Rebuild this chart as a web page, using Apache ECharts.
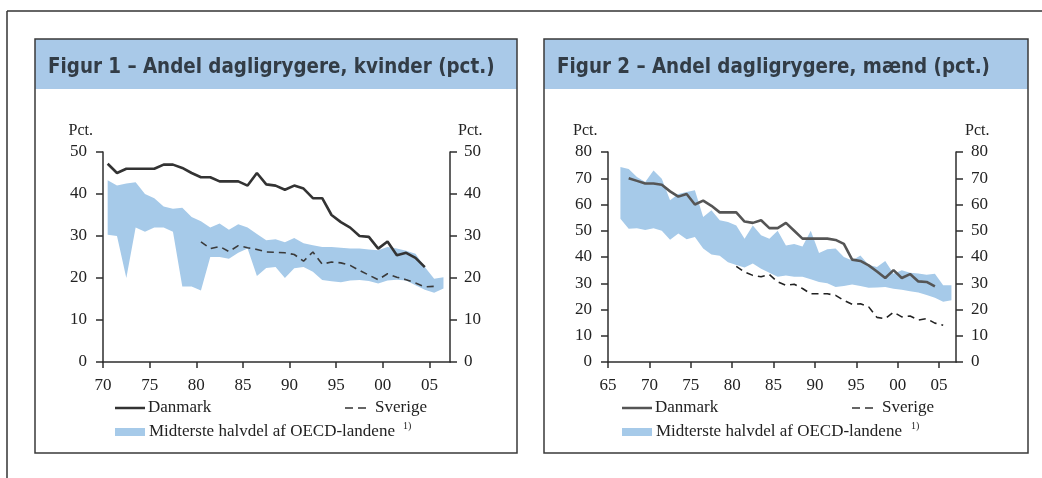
<!DOCTYPE html>
<html>
<head>
<meta charset="utf-8">
<script src="https://cdn.jsdelivr.net/npm/echarts@6/dist/echarts.min.js"></script>
<style>
html,body{margin:0;padding:0;background:#fff;}
#c{width:1042px;height:478px;}
</style>
</head>
<body>
<div id="c"></div>
<script>
// ---------- DATA ----------
// Figur 1 – kvinder
const f1DkYears = [1970,1971,1972,1973,1974,1975,1976,1977,1978,1979,1980,1981,1982,1983,1984,1985,1986,1987,1988,1989,1990,1991,1992,1993,1994,1995,1996,1997,1998,1999,2000,2001,2002,2003,2004];
const f1Dk = [47.2,45,46,46,46,46,47,47,46.2,45,44,44,43,43,43,42,45,42.3,42,41,42,41.3,39,39,35,33.3,32,30,29.8,27,28.7,25.4,26,24.8,22.6];
const f1SeYears = [1980,1981,1982,1983,1984,1985,1986,1987,1988,1989,1990,1991,1992,1993,1994,1995,1996,1997,1998,1999,2000,2001,2002,2003,2004,2005];
const f1Se = [28.6,27,27.5,26.3,27.7,27.2,26.8,26.2,26.1,26,25.6,24,26.2,23.3,23.8,23.6,23,21.8,20.7,19.6,21,20.2,19.6,18.8,17.9,18];
const f1BandYears = [1970,1971,1972,1973,1974,1975,1976,1977,1978,1979,1980,1981,1982,1983,1984,1985,1986,1987,1988,1989,1990,1991,1992,1993,1994,1995,1996,1997,1998,1999,2000,2001,2002,2003,2004,2005,2006];
const f1BandHigh = [43.3,42,42.5,42.8,40,39,37,36.5,36.7,34.5,33.5,32,33,31.5,32.8,32,30.5,29,29.2,28.5,29.5,28.3,27.8,27.4,27.4,27.2,27,27,26.8,26.6,27.4,27,26.5,25.8,22.6,19.8,20.2];
const f1BandLow = [30.3,30,20,32,31,32,32,31,18,18,17,25,25,24.6,26,27,20.5,22.4,22.6,20,22.3,22.6,21.5,19.5,19.2,19,19.4,19.5,19.3,18.7,19.4,19.6,19.4,18.3,17.2,16.5,17.5];

// Figur 2 – mænd
const f2DkYears = [1967,1968,1969,1970,1971,1972,1973,1974,1975,1976,1977,1978,1979,1980,1981,1982,1983,1984,1985,1986,1987,1988,1989,1990,1991,1992,1993,1994,1995,1996,1997,1998,1999,2000,2001,2002,2003,2004];
const f2Dk = [70,69,68,68,67.5,65,63,64,60,61.5,59.5,57,57,57,53.5,53,54,51,51,53,50,47,47,47,47,46.5,45,39,38.5,36.8,34.5,32,35,32,33.5,30.7,30.5,28.8];
const f2SeYears = [1980,1981,1982,1983,1984,1985,1986,1987,1988,1989,1990,1991,1992,1993,1994,1995,1996,1997,1998,1999,2000,2001,2002,2003,2004,2005];
const f2Se = [36.4,34.3,33,32.5,33.3,30.5,29.2,29.6,28,26,26,26,25.4,23.5,22,22.2,21,17,16.5,19,17.2,17.5,16,16.5,14.8,14];
const f2BandYears = [1966,1967,1968,1969,1970,1971,1972,1973,1974,1975,1976,1977,1978,1979,1980,1981,1982,1983,1984,1985,1986,1987,1988,1989,1990,1991,1992,1993,1994,1995,1996,1997,1998,1999,2000,2001,2002,2003,2004,2005,2006];
const f2BandHigh = [74.3,73.5,70.5,68.6,73,69.8,61.6,64,64.8,65.4,55.2,57.8,54,53.3,52,47,52,48.3,47,50,44.4,45,44,50,41.5,43,43.2,40,38.7,40.6,37,36.2,38.5,33.6,35,34,33.7,33.2,33.6,29.2,29.2];
const f2BandLow = [54.6,50.8,51,50.3,51,50,46.6,49,46.8,47.6,43.2,41,40.5,38,37,36,37.5,35.5,34,32.5,33,32.5,32.5,31.5,30.5,30,28.6,29,29.5,29,28.3,28.4,28.6,27.9,27.5,27,26.5,25.5,24.5,23,23.5];

// Tick labels
const f1XTicks = [1970,1975,1980,1985,1990,1995,2000,2005];
const f2XTicks = [1965,1970,1975,1980,1985,1990,1995,2000,2005];
const titles = ['Figur 1 – Andel dagligrygere, kvinder (pct.)', 'Figur 2 – Andel dagligrygere, mænd (pct.)'];
const legendNames = ['Danmark', 'Sverige', 'Midterste halvdel af OECD-landene'];

// ---------- STYLE ----------
const BAND = '#a6cae9';
const AXIS = '#2e2e2e';
const SERIF = '"Liberation Serif","Times New Roman",serif';
const TITLEFONT = '"Liberation Sans Narrow","DejaVu Sans Condensed",sans-serif';

// data points are plotted at mid-year
const MID = 0.5;
const pts = (years, vals) => years.map((y, i) => [y + MID, vals[i]]);
const yrLabel = v => String(Math.round(v) % 100).padStart(2, '0');

function xAxis(gi, min, max, ticks) {
  return {
    type: 'value', gridIndex: gi, min: min, max: max,
    axisLine: {show: true, onZero: false, lineStyle: {color: AXIS, width: 1.5}},
    axisTick: {show: true, length: 6, customValues: ticks, lineStyle: {color: AXIS, width: 1.5}},
    axisLabel: {customValues: ticks, formatter: yrLabel, margin: 15, color: '#222', fontFamily: SERIF, fontSize: 17},
    splitLine: {show: false}
  };
}
function yAxis(gi, max, pos, margin) {
  return {
    type: 'value', gridIndex: gi, min: 0, max: max, interval: 10, position: pos,
    axisLine: {show: true, lineStyle: {color: AXIS, width: 1.5}},
    axisTick: {show: true, length: 7, lineStyle: {color: AXIS, width: 1.5}},
    axisLabel: {margin: margin, color: '#222', fontFamily: SERIF, fontSize: 17},
    splitLine: {show: false}
  };
}
// band between low and high drawn as one polygon through the axes' scales
function bandSeries(xi, yi, years, lo, hi) {
  const data = years.map((y, i) => [y + MID, lo[i], hi[i]]);
  return {
    type: 'custom', xAxisIndex: xi, yAxisIndex: yi, data: data, silent: true, z: 1,
    encode: {x: 0, y: [1, 2]},
    renderItem: function (params, api) {
      if (params.dataIndex !== 0) return null;
      const top = data.map(d => api.coord([d[0], d[2]]));
      const bot = data.map(d => api.coord([d[0], d[1]])).reverse();
      return {type: 'polygon', shape: {points: top.concat(bot)}, style: {fill: BAND, stroke: null}};
    }
  };
}

// ---------- GRAPHIC (frames, titles, legends) ----------
function panel(x0, x1, title, lx, dkColor) {
  const g = [];
  g.push({type: 'rect', shape: {x: x0, y: 39, width: x1 - x0, height: 50}, style: {fill: '#a9c9e8'}, z: -10});
  g.push({type: 'rect', shape: {x: x0, y: 39, width: x1 - x0, height: 414}, style: {fill: 'transparent', stroke: '#3a3a3a', lineWidth: 1.5}, z: -10});
  g.push({type: 'text', x: x0 + 13, y: 67, scaleX: 0.925, style: {text: title, fill: '#323c46', font: 'bold 22px ' + TITLEFONT, verticalAlign: 'middle'}, z: 5});
  // legend
  g.push({type: 'line', shape: {x1: lx, y1: 408, x2: lx + 30, y2: 408}, style: {stroke: dkColor, lineWidth: 2.5}, z: 5});
  g.push({type: 'text', x: lx + 33, y: 408, style: {text: legendNames[0], fill: '#222', font: '17px ' + SERIF, verticalAlign: 'middle'}, z: 5});
  g.push({type: 'line', shape: {x1: lx + 230, y1: 408, x2: lx + 256, y2: 408}, style: {stroke: '#333', lineWidth: 1.5, lineDash: [8, 5]}, z: 5});
  g.push({type: 'text', x: lx + 260, y: 408, style: {text: legendNames[1], fill: '#222', font: '17px ' + SERIF, verticalAlign: 'middle'}, z: 5});
  g.push({type: 'rect', shape: {x: lx, y: 428, width: 30, height: 8}, style: {fill: BAND}, z: 5});
  g.push({type: 'text', x: lx + 34, y: 432, style: {text: legendNames[2], fill: '#222', font: '17px ' + SERIF, verticalAlign: 'middle'}, z: 5});
  return g;
}

const graphic = [
  {type: 'line', shape: {x1: 7, y1: 11, x2: 1042, y2: 11}, style: {stroke: '#333', lineWidth: 1.5}, z: -10},
  {type: 'line', shape: {x1: 7, y1: 11, x2: 7, y2: 478}, style: {stroke: '#333', lineWidth: 1.5}, z: -10},
  ...panel(35, 517, titles[0], 115, '#333'),
  ...panel(544, 1028, titles[1], 622, '#555'),
  {type: 'text', x: 403, y: 421, style: {text: '1)', fill: '#222', font: '10px ' + SERIF}, z: 5},
  {type: 'text', x: 911, y: 421, style: {text: '1)', fill: '#222', font: '10px ' + SERIF}, z: 5},
  {type: 'text', x: 93, y: 131, style: {text: 'Pct.', fill: '#222', font: '16px ' + SERIF, align: 'right', verticalAlign: 'middle'}},
  {type: 'text', x: 458, y: 131, style: {text: 'Pct.', fill: '#222', font: '16px ' + SERIF, verticalAlign: 'middle'}},
  {type: 'text', x: 573, y: 131, style: {text: 'Pct.', fill: '#222', font: '16px ' + SERIF, verticalAlign: 'middle'}},
  {type: 'text', x: 965, y: 131, style: {text: 'Pct.', fill: '#222', font: '16px ' + SERIF, verticalAlign: 'middle'}}
];

// ---------- CHART ----------
const chart = echarts.init(document.getElementById('c'), null, {renderer: 'canvas'});
chart.setOption({
  animation: false,
  backgroundColor: '#fff',
  graphic: graphic,
  grid: [
    {left: 103, top: 152, width: 347, height: 210},
    {left: 608, top: 152, width: 348, height: 210}
  ],
  xAxis: [
    xAxis(0, 1970, 2007.2, f1XTicks),
    xAxis(1, 1965, 2007.05, f2XTicks)
  ],
  yAxis: [
    yAxis(0, 50, 'left', 16),
    yAxis(0, 50, 'right', 14),
    yAxis(1, 80, 'left', 16),
    yAxis(1, 80, 'right', 15)
  ],
  series: [
    bandSeries(0, 0, f1BandYears, f1BandLow, f1BandHigh),
    {type: 'line', xAxisIndex: 0, yAxisIndex: 0, data: pts(f1SeYears, f1Se), showSymbol: false, symbol: 'none',
     lineStyle: {color: '#3a3a3a', width: 1.6, type: [7, 5]}, z: 3},
    {type: 'line', xAxisIndex: 0, yAxisIndex: 0, data: pts(f1DkYears, f1Dk), showSymbol: false, symbol: 'none',
     lineStyle: {color: '#333', width: 2.6}, z: 4},
    bandSeries(1, 2, f2BandYears, f2BandLow, f2BandHigh),
    {type: 'line', xAxisIndex: 1, yAxisIndex: 2, data: pts(f2SeYears, f2Se), showSymbol: false, symbol: 'none',
     lineStyle: {color: '#222', width: 1.6, type: [7, 5]}, z: 3},
    {type: 'line', xAxisIndex: 1, yAxisIndex: 2, data: pts(f2DkYears, f2Dk), showSymbol: false, symbol: 'none',
     lineStyle: {color: '#555', width: 2.6}, z: 4}
  ]
});
</script>
</body>
</html>
